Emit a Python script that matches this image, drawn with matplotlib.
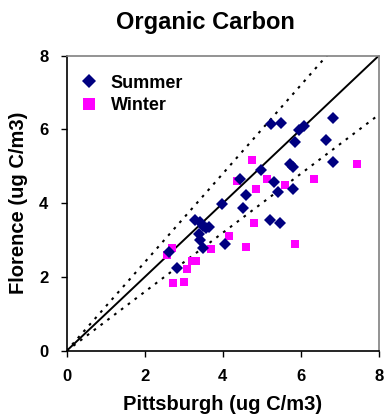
import matplotlib
matplotlib.use("Agg")
import matplotlib.pyplot as plt
import numpy as np

plt.rcParams['font.family'] = ['Liberation Sans', 'DejaVu Sans']
plt.rcParams['font.weight'] = 'bold'

summer_x = [5.24, 5.49, 5.96, 6.09, 6.81, 5.85, 6.64, 5.71, 5.79, 6.83, 4.98, 4.45,
            5.30, 5.41, 5.80, 4.60, 3.97, 4.51, 3.29, 3.41, 3.49, 3.56, 3.66, 5.20,
            5.47, 3.38, 3.41, 3.50, 4.06, 2.83, 2.62]
summer_y = [6.14, 6.16, 5.99, 6.08, 6.32, 5.66, 5.71, 5.05, 4.99, 5.13, 4.91, 4.65,
            4.57, 4.31, 4.38, 4.22, 3.99, 3.88, 3.56, 3.48, 3.39, 3.32, 3.37, 3.54,
            3.46, 3.17, 3.01, 2.80, 2.90, 2.26, 2.69]
winter_x = [4.74, 7.44, 4.36, 5.12, 4.85, 5.59, 6.33, 4.80, 4.17, 3.69, 4.60, 5.86,
            2.71, 2.56, 3.22, 3.31, 3.09, 2.73, 3.00]
winter_y = [5.17, 5.07, 4.60, 4.65, 4.39, 4.50, 4.65, 3.46, 3.11, 2.77, 2.82, 2.90,
            2.79, 2.61, 2.45, 2.43, 2.22, 1.85, 1.88]
ticks = [0, 2, 4, 6, 8]
ref_slopes = [1.2, 0.8]

fig = plt.figure(figsize=(3.87, 4.18), dpi=100)
ax = fig.add_axes([66.5/387, 1-351/418, (379-66.5)/387, (351-55.5)/418])

xx = np.array([0, 8])
ax.plot(xx, xx, color='black', lw=1.4, zorder=1)
for s in ref_slopes:
    xe = min(8, 8/s)
    ax.plot([0, xe], [0, s*xe], color='black', lw=1.5, ls=(0, (1.3, 2.8)), zorder=1)

ax.plot(summer_x, summer_y, 'D', color='#000080', ms=6.5, mew=0, label='Summer', zorder=3)
ax.plot(winter_x, winter_y, 's', color='#FF00FF', ms=6.2, mew=0, label='Winter', zorder=2)

ax.set_xlim(0, 8)
ax.set_ylim(0, 8)
ax.set_xticks(ticks)
ax.set_yticks(ticks)
ax.tick_params(direction='out', length=4, width=1, labelsize=12, pad=9)
for lab in ax.get_xticklabels() + ax.get_yticklabels():
    lab.set_fontweight('bold')
ax.spines['left'].set_color('black')
ax.spines['bottom'].set_color('black')
ax.spines['top'].set_color('#808080')
ax.spines['right'].set_color('#808080')
for sp in ax.spines.values():
    sp.set_linewidth(1.2)

ax.set_xlabel('Pittsburgh (ug C/m3)', fontsize=14.5, fontweight='bold', labelpad=8)
ax.set_ylabel('Florence (ug C/m3)', fontsize=14.5, fontweight='bold', labelpad=8)
fig.text(205/387, 1-22/418, 'Organic Carbon', ha='center', va='center',
         fontsize=17, fontweight='bold')

leg = ax.legend(loc='upper left', frameon=False, fontsize=13, handletextpad=0.7,
                borderaxespad=0, borderpad=0, labelspacing=0.3, handlelength=1.0,
                bbox_to_anchor=(0.043, 0.935))
for t in leg.get_texts():
    t.set_fontweight('bold')
hs = leg.legend_handles
hs[0].set_markersize(7.2)
hs[1].set_markersize(9.0)

fig.savefig('out.png', dpi=100)
